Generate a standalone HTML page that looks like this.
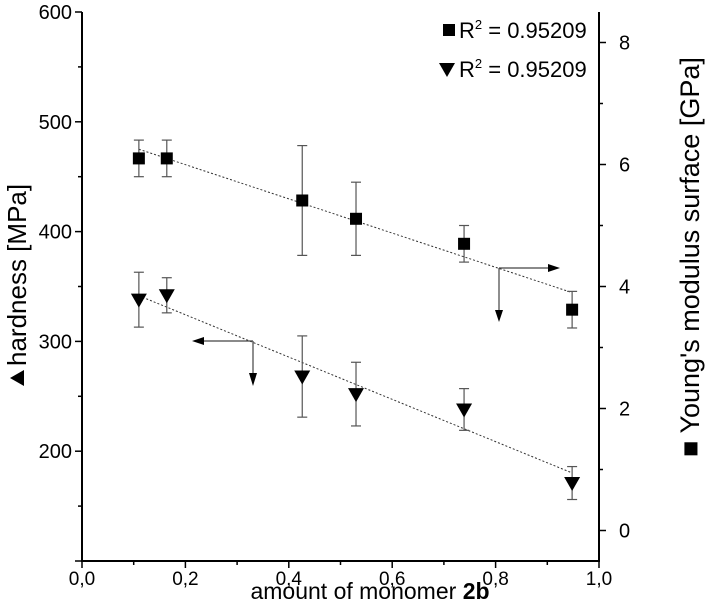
<!DOCTYPE html>
<html><head><meta charset="utf-8"><style>
body{margin:0;background:#fff;}
svg text{font-family:"Liberation Sans",sans-serif;}
</style></head><body>
<svg id="chart" width="708" height="600" xmlns="http://www.w3.org/2000/svg"></svg>
<script>
const xValues=[0.110,0.164,0.426,0.530,0.739,0.948];
const modulus=[6.10,6.10,5.41,5.11,4.70,3.62];
const modulusErr=[0.30,0.30,0.90,0.60,0.30,0.30];
const hardness=[338,342,268,252,238,171];
const hardnessErr=[25,16,37,29,19,15];
const modulusFit=[6.25,3.90];
const hardnessFit=[341.6,180.2];
const fitX=[0.110,0.948];
const xTicks=[0,0.2,0.4,0.6,0.8,1.0];
const xTickLabels=["0,0","0,2","0,4","0,6","0,8","1,0"];
const leftTicks=[200,300,400,500,600];
const rightTicks=[0,2,4,6,8];
const L=82,R=599,T=12,B=561;
const sx=v=>L+(v-0)/(1-0)*(R-L);
const syL=v=>B-(v-100)/(600-100)*(B-T);
const syR=v=>B-(v-(-0.5))/(8.5-(-0.5))*(B-T);
const svg=document.getElementById('chart');
const NS='http://www.w3.org/2000/svg';
function el(tag,a,parent){const e=document.createElementNS(NS,tag);for(const k in a)e.setAttribute(k,a[k]);(parent||svg).appendChild(e);return e;}
let ax=el('path',{d:`M${L},${T}V${B}H${R}V${T}`,fill:'none',stroke:'#000','stroke-width':2});


xTicks.forEach((t,i)=>{
 el('line',{x1:sx(t),x2:sx(t),y1:B,y2:B+7,stroke:'#000','stroke-width':1.5});
 if(i<xTicks.length-1) el('line',{x1:sx(t+0.1),x2:sx(t+0.1),y1:B,y2:B+4,stroke:'#000','stroke-width':1.5});
 const tx=el('text',{x:sx(t),y:B+24,'font-size':19,'text-anchor':'middle'});tx.textContent=xTickLabels[i];
 
 
});
for(let v=100;v<=600;v+=50){el('line',{x1:L-(v%100?4:7),x2:L,y1:syL(v),y2:syL(v),stroke:'#000','stroke-width':1.5});}
leftTicks.forEach(v=>{const tx=el('text',{x:L-10,y:syL(v)+7,'font-size':20,'text-anchor':'end'});tx.textContent=v;
 
 });
for(let v=0;v<=8;v+=1){el('line',{x1:R,x2:R+(v%2?4:7),y1:syR(v),y2:syR(v),stroke:'#000','stroke-width':1.5});}
rightTicks.forEach(v=>{const tx=el('text',{x:R+20,y:syR(v)+7,'font-size':20});tx.textContent=v;
 
 });
let f1=el('line',{x1:sx(fitX[0]),y1:syR(modulusFit[0]),x2:sx(fitX[1]),y2:syR(modulusFit[1]),stroke:'#333','stroke-width':1,'stroke-dasharray':'2,2'});


let f2=el('line',{x1:sx(fitX[0]),y1:syL(hardnessFit[0]),x2:sx(fitX[1]),y2:syL(hardnessFit[1]),stroke:'#333','stroke-width':1,'stroke-dasharray':'2,2'});


function errbar(x,y1,y2){const g=el('g',{stroke:'#555','stroke-width':1.2});
 el('line',{x1:x,x2:x,y1:y1,y2:y2},g);el('line',{x1:x-5,x2:x+5,y1:y1,y2:y1},g);el('line',{x1:x-5,x2:x+5,y1:y2,y2:y2},g);return g;}
xValues.forEach((xv,i)=>{
 const x=sx(xv);
 let e=errbar(x,syR(modulus[i]+modulusErr[i]),syR(modulus[i]-modulusErr[i]));
 
 
 const y=syR(modulus[i]);
 let s=el('rect',{x:x-6,y:y-6,width:12,height:12,fill:'#000'});
 
 
 let e2=errbar(x,syL(hardness[i]+hardnessErr[i]),syL(hardness[i]-hardnessErr[i]));
 
 
 const y2=syL(hardness[i]);
 let t=el('path',{d:`M${x-8},${y2-6}H${x+8}L${x},${y2+8}Z`,fill:'#000'});
 
 
});
let a1=el('g',{stroke:'#444','stroke-width':1.2,fill:'#000'});


el('path',{d:'M499,268H550M499,268V315',fill:'none'},a1);
el('path',{d:'M548,264L560,268L548,272Z',stroke:'none'},a1);
el('path',{d:'M495,310L499,322L503,310Z',stroke:'none'},a1);
let a2=el('g',{stroke:'#444','stroke-width':1.2,fill:'#000'});


el('path',{d:'M253,341H202M253,341V378',fill:'none'},a2);
el('path',{d:'M204,337L192,341L204,345Z',stroke:'none'},a2);
el('path',{d:'M249,373L253,386L257,373Z',stroke:'none'},a2);
let lg=el('g',{});


el('rect',{x:443,y:24,width:12,height:12,fill:'#000'},lg);
let l1=el('text',{x:459,y:38,'font-size':22},lg);l1.innerHTML='R<tspan dy="-9" font-size="13">2</tspan><tspan dy="9"> = 0.95209</tspan>';
el('path',{d:'M439,63H455L447,77Z',fill:'#000'},lg);
let l2=el('text',{x:459,y:77,'font-size':22},lg);l2.innerHTML='R<tspan dy="-9" font-size="13">2</tspan><tspan dy="9"> = 0.95209</tspan>';
let xt=el('text',{x:370,y:599,'font-size':23,'text-anchor':'middle'});xt.innerHTML='amount of monomer <tspan font-weight="bold">2b</tspan>';


let ylm=el('path',{d:'M10,378L24,370V386Z',fill:'#000'});


let yl=el('text',{transform:'translate(26,366) rotate(-90)','font-size':26,'text-anchor':'start'});yl.textContent='hardness [MPa]';


let yr=el('text',{transform:'translate(699,257) rotate(-90)','font-size':27,'text-anchor':'middle'});yr.textContent='■ Young\'s modulus surface [GPa]';


</script>
</body></html>
